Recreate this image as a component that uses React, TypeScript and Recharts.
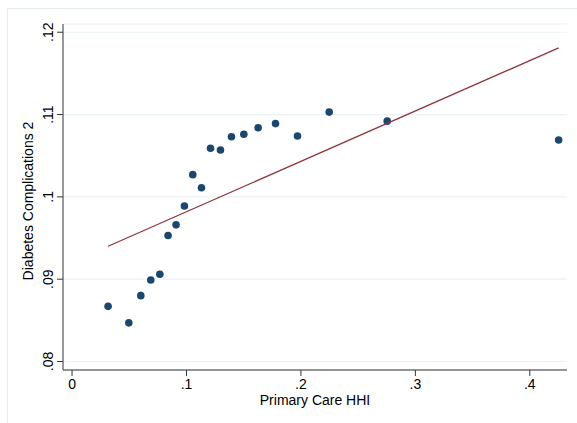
import React from 'react';
import { ScatterChart, Scatter, XAxis, YAxis, CartesianGrid } from 'recharts';

const hhi = [0.0315, 0.0496, 0.0601, 0.0688, 0.0767, 0.0839, 0.0909, 0.0982, 0.1055, 0.1131, 0.121, 0.1297, 0.1393, 0.1501, 0.1626, 0.1778, 0.197, 0.2247, 0.2754, 0.4252];
const complications = [0.0867, 0.0847, 0.088, 0.0899, 0.0906, 0.0953, 0.0966, 0.0989, 0.1027, 0.1011, 0.1059, 0.1057, 0.1073, 0.1076, 0.1084, 0.1089, 0.1074, 0.1103, 0.1092, 0.1069];
const fitX = [0.0315, 0.4252];
const fitY = [0.094, 0.1181];
const xTicks = [0, 0.1, 0.2, 0.3, 0.4];
const xTickLabels = ['0', '.1', '.2', '.3', '.4'];
const yTicks = [0.08, 0.09, 0.1, 0.11, 0.12];
const yTickLabels = ['.08', '.09', '.1', '.11', '.12'];

const points = hhi.map((x, i) => ({ x, y: complications[i] }));
const fit = fitX.map((x, i) => ({ x, y: fitY[i] }));

const FONT = 'Liberation Sans, Arial, sans-serif';
const TEXT = '#000000';

const XTick = (props: any) => {
  const { x, y, payload } = props;
  const idx = xTicks.findIndex((t) => Math.abs(t - payload.value) < 1e-9);
  return (
    <text x={x} y={y} dy={11} textAnchor="middle" fontFamily={FONT} fontSize={14} fill={TEXT}>
      {idx >= 0 ? xTickLabels[idx] : ''}
    </text>
  );
};

const YTick = (props: any) => {
  const { x, y, payload } = props;
  const idx = yTicks.findIndex((t) => Math.abs(t - payload.value) < 1e-9);
  return (
    <text x={x} y={y} transform={`rotate(-90, ${x}, ${y})`} textAnchor="middle" fontFamily={FONT} fontSize={14} fill={TEXT}>
      {idx >= 0 ? yTickLabels[idx] : ''}
    </text>
  );
};

const XLabel = (props: any) => {
  const vb = props.viewBox || {};
  return (
    <text x={vb.x + vb.width / 2} y={vb.y + 34.5} textAnchor="middle" fontFamily={FONT} fontSize={14} fill={TEXT}>
      Primary Care HHI
    </text>
  );
};

const YLabel = (props: any) => {
  const cx = 33;
  const cy = 201;
  return (
    <text x={cx} y={cy} transform={`rotate(-90, ${cx}, ${cy})`} textAnchor="middle" fontFamily={FONT} fontSize={14} fill={TEXT}>
      Diabetes Complications 2
    </text>
  );
};

const Dot = (props: any) => {
  const { cx, cy } = props;
  return <circle cx={cx} cy={cy} r={3.8} fill="#1a476f" />;
};

const NoDot = () => <g />;

export default function App() {
  return (
    <div style={{ position: 'absolute', left: 0, top: 0, width: 577, height: 423, overflow: 'hidden', background: '#fff' }}>
      <div style={{ position: 'absolute', left: 7, top: 8, width: 620, height: 480, border: '1px solid #e4ecef', boxSizing: 'border-box' }} />
      <div style={{ position: 'absolute', left: 0, top: 0 }}>
        <ScatterChart width={577} height={423} margin={{ top: 24, right: 10, bottom: 0, left: 0 }}>
          <CartesianGrid vertical={false} stroke="#eaf2f3" strokeWidth={1.2} />
          <XAxis
            type="number"
            dataKey="x"
            domain={[-0.0079, 0.4325]}
            ticks={xTicks}
            allowDataOverflow
            height={53}
            tickSize={6}
            tickMargin={2}
            stroke="#333"
            tickLine={{ stroke: '#333' }}
            tick={<XTick />}
            label={<XLabel />}
          />
          <YAxis
            type="number"
            dataKey="y"
            domain={[0.07897, 0.121]}
            ticks={yTicks}
            allowDataOverflow
            width={63}
            tickSize={6}
            tickMargin={4}
            stroke="#333"
            tickLine={{ stroke: '#333' }}
            tick={<YTick />}
            label={<YLabel />}
          />
          <Scatter data={points} fill="#1a476f" shape={<Dot />} isAnimationActive={false} />
          <Scatter data={fit} line={{ stroke: '#90353b', strokeWidth: 1.3 }} shape={<NoDot />} isAnimationActive={false} />
        </ScatterChart>
      </div>
    </div>
  );
}
